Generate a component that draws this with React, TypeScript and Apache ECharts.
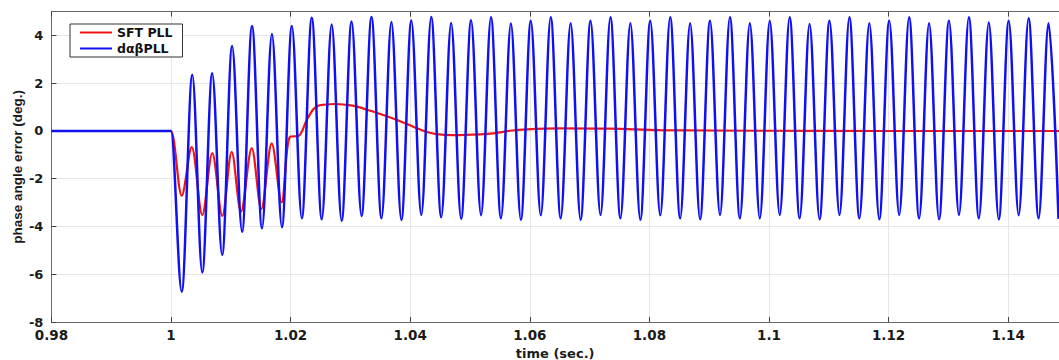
import React, { useEffect, useRef } from "react";
import * as echarts from "echarts";

// x-axis tick settings
const xMin = 0.98;
const xMax = 1.1485;
const xStep = 0.02;
const yMin = -8;
const yMax = 5;
const yStep = 2;

const seriesNames = ["SFT PLL", "dαβPLL"];

// SFT PLL (red)
const sftTime = [
  0.98, 0.9995, 1.0, 1.0018, 1.00346, 1.00523, 1.0069, 1.00858, 1.01015, 1.0117,
  1.0135, 1.0151, 1.01684, 1.0185, 1.0199, 1.0213, 1.0227, 1.0238, 1.0246, 1.0255,
  1.0274, 1.0294, 1.0311, 1.0333, 1.0355, 1.0378, 1.0405, 1.0427, 1.0444, 1.0472,
  1.0517, 1.0539, 1.0567, 1.0595, 1.065, 1.0734, 1.0818, 1.0985, 1.12, 1.1485,
];
const sftValue = [
  0, 0, 0, -2.71, -0.68, -3.52, -0.93, -3.56, -0.87, -3.38,
  -0.72, -3.27, -0.52, -2.99, -0.24, -0.21, 0.46, 0.91, 1.06, 1.1,
  1.13, 1.09, 1.02, 0.85, 0.67, 0.46, 0.18, -0.03, -0.13, -0.17,
  -0.14, -0.1, 0.01, 0.07, 0.11, 0.1, 0.04, 0.01, 0.0, 0.0,
];

// dαβPLL (blue): flat, then alternating troughs / peaks
const dabTime = [
  0.98, 1.0,
  1.0018, 1.00356, 1.00523, 1.00689, 1.00856, 1.01022, 1.01189, 1.01355,
  1.01522, 1.01688, 1.01855, 1.02021, 1.02188, 1.02354, 1.02521, 1.02687,
  1.02854, 1.0302, 1.03187, 1.03353, 1.0352, 1.03686, 1.03853, 1.04019,
  1.04186, 1.04352, 1.04519, 1.04685, 1.04852, 1.05018, 1.05185, 1.05351,
  1.05518, 1.05684, 1.05851, 1.06017, 1.06184, 1.0635, 1.06517, 1.06683,
  1.0685, 1.07016, 1.07183, 1.07349, 1.07516, 1.07682, 1.07849, 1.08015,
  1.08182, 1.08348, 1.08515, 1.08681, 1.08848, 1.09014, 1.09181, 1.09347,
  1.09514, 1.0968, 1.09847, 1.10013, 1.1018, 1.10346, 1.10513, 1.10679,
  1.10846, 1.11012, 1.11179, 1.11345, 1.11512, 1.11678, 1.11845, 1.12011,
  1.12178, 1.12344, 1.12511, 1.12677, 1.12844, 1.1301, 1.13177, 1.13343,
  1.1351, 1.13676, 1.13843, 1.14009, 1.14176, 1.14342, 1.14509, 1.14675,
  1.14842,
];
const dabValue = [
  0, 0,
  -6.73, 2.35, -5.93, 2.42, -5.19, 3.56, -4.22, 4.4,
  -4.08, 4.06, -4.03, 4.4, -3.66, 4.74, -3.7, 4.46,
  -3.76, 4.59, -3.56, 4.77, -3.66, 4.56, -3.73, 4.63,
  -3.52, 4.77, -3.61, 4.52, -3.68, 4.64, -3.53, 4.76,
  -3.66, 4.5, -3.72, 4.62, -3.53, 4.76, -3.66, 4.51,
  -3.72, 4.62, -3.52, 4.76, -3.66, 4.51, -3.72, 4.62,
  -3.53, 4.76, -3.66, 4.51, -3.7, 4.62, -3.52, 4.76,
  -3.66, 4.51, -3.66, 4.62, -3.52, 4.76, -3.66, 4.48,
  -3.7, 4.62, -3.52, 4.76, -3.66, 4.51, -3.7, 4.62,
  -3.52, 4.76, -3.66, 4.51, -3.7, 4.62, -3.52, 4.76,
  -3.66, 4.54, -3.7, 4.62, -3.53, 4.72, -3.66, 4.51,
  -3.68,
];

const zip = (a: number[], b: number[]) => a.map((t, i) => [t, b[i]]);

const FONT = "DejaVu Sans";

export default function App() {
  const ref = useRef<HTMLDivElement>(null);
  useEffect(() => {
    if (!ref.current) return;
    const chart = echarts.init(ref.current, undefined, { renderer: "svg" });
    const axisColor = "#6a6a6a";
    const fmt = (v: number) => String(Math.round(v * 100) / 100);
    chart.setOption({
      animation: false,
      backgroundColor: "#ffffff",
      textStyle: { fontFamily: FONT },
      grid: { left: 51.4, right: 0, top: 11.6, bottom: 38, containLabel: false, outerBoundsMode: "none" },
      legend: {
        orient: "vertical",
        left: 70,
        top: 24,
        data: seriesNames,
        icon: "rect",
        itemWidth: 32,
        itemHeight: 2,
        itemGap: 3,
        padding: [2, 10, 2, 10],
        backgroundColor: "#ffffff",
        borderColor: "#333333",
        borderWidth: 1,
        textStyle: { fontFamily: FONT, fontWeight: "bold", fontSize: 12.5, color: "#111" },
      },
      xAxis: [
        {
          type: "value",
          min: xMin,
          max: xMax,
          interval: xStep,
          position: "bottom",
          axisLine: { show: true, onZero: false, lineStyle: { color: axisColor, width: 1 } },
          axisTick: { show: true, inside: true, length: 5, lineStyle: { color: "#444" } },
          axisLabel: {
            formatter: fmt,
            fontFamily: FONT,
            fontWeight: "bold",
            fontSize: 13.5,
            color: "#1a1a1a",
            margin: 6,
            showMaxLabel: false,
          },
          splitLine: { show: true, lineStyle: { color: "#e6e6e6", width: 1 } },
          name: "time (sec.)",
          nameLocation: "middle",
          nameGap: 20,
          nameTextStyle: { fontFamily: FONT, fontWeight: "bold", fontSize: 13, color: "#1a1a1a" },
        },
        {
          type: "value",
          min: xMin,
          max: xMax,
          interval: xStep,
          position: "top",
          axisLine: { show: true, onZero: false, lineStyle: { color: axisColor, width: 1 } },
          axisTick: { show: true, inside: true, length: 5, lineStyle: { color: "#444" } },
          axisLabel: { show: false },
          splitLine: { show: false },
        },
      ],
      yAxis: {
        type: "value",
        min: yMin,
        max: yMax,
        interval: yStep,
        axisLine: { show: true, onZero: false, lineStyle: { color: axisColor, width: 1 } },
        axisTick: { show: true, inside: true, length: 5, lineStyle: { color: "#444" } },
        axisLabel: {
          fontFamily: FONT,
          fontWeight: "bold",
          fontSize: 13,
          color: "#1a1a1a",
          margin: 8,
          showMaxLabel: false,
        },
        splitLine: { show: true, lineStyle: { color: "#e6e6e6", width: 1 } },
        name: "phase angle error (deg.)",
        nameLocation: "middle",
        nameGap: 27,
        nameMoveOverlap: false,
        nameTextStyle: {
          fontFamily: "Liberation Sans",
          fontWeight: "bold",
          fontSize: 13.5,
          color: "#1a1a1a",
        },
      },
      series: [
        {
          name: seriesNames[0],
          type: "line",
          data: zip(sftTime, sftValue),
          showSymbol: false,
          smooth: 0.33,
          lineStyle: { color: "#f01414", width: 2.2 },
          itemStyle: { color: "#f01414" },
          z: 2,
        },
        {
          name: seriesNames[1],
          type: "line",
          data: zip(dabTime, dabValue),
          showSymbol: false,
          smooth: 0.34,
          smoothMonotone: "x",
          lineStyle: { color: "#1010f0", width: 2.5 },
          itemStyle: { color: "#1010f0" },
          z: 3,
        },
      ],
    });
    return () => chart.dispose();
  }, []);
  return (
    <div
      ref={ref}
      style={{ position: "fixed", left: 0, top: 0, width: 1059, height: 360, background: "#fff" }}
    />
  );
}
